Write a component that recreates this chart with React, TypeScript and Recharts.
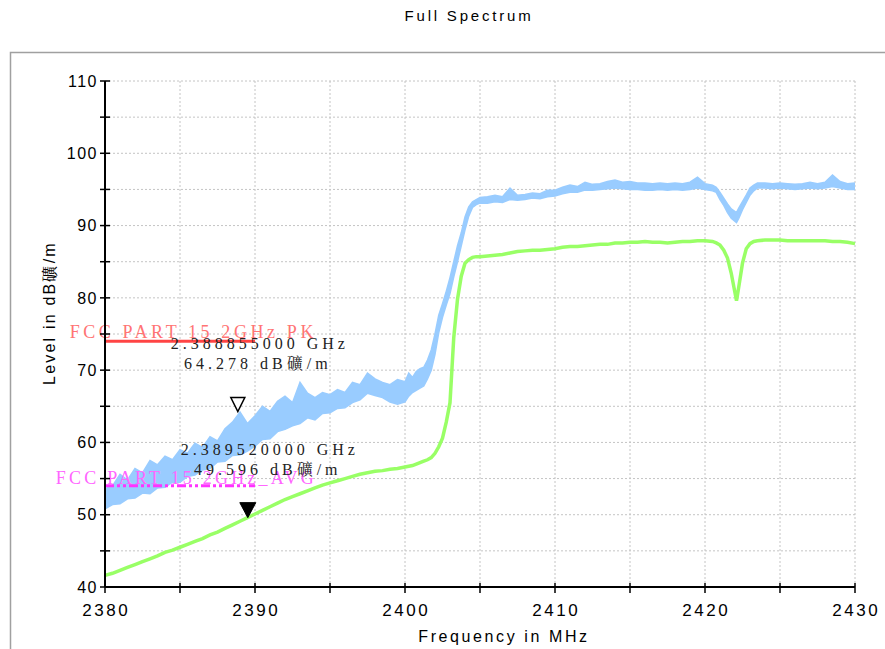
import React from 'react';
import {
  ComposedChart,
  Area,
  Line,
  XAxis,
  YAxis,
  CartesianGrid,
  ReferenceLine,
  ReferenceDot,
  Label,
} from 'recharts';

// ---------- data ----------
const freqMHz = [
  2380, 2380.5, 2381, 2381.5, 2382, 2382.5, 2383, 2383.5, 2384, 2384.5,
  2385, 2385.5, 2386, 2386.5, 2387, 2387.5, 2388, 2388.5, 2389, 2389.5,
  2390, 2390.5, 2391, 2391.5, 2392, 2392.5, 2393, 2393.5, 2394, 2394.5,
  2395, 2395.5, 2396, 2396.5, 2397, 2397.5, 2398, 2398.5, 2399, 2399.5, 2400,
  2400.25, 2400.5, 2400.75, 2401, 2401.25, 2401.5, 2401.75, 2402, 2402.25, 2402.5,
  2402.75, 2403, 2403.25, 2403.5, 2403.75, 2404, 2404.25, 2404.5, 2404.75, 2405,
  2405.5, 2406, 2406.5, 2407, 2407.5, 2408, 2408.5, 2409, 2409.5, 2410,
  2410.5, 2411, 2411.5, 2412, 2412.5, 2413, 2413.5, 2414, 2414.5, 2415,
  2415.5, 2416, 2416.5, 2417, 2417.5, 2418, 2418.5, 2419, 2419.5, 2420,
  2420.5,
  2420.75, 2421, 2421.25, 2421.5, 2421.75, 2422.1, 2422.25, 2422.5, 2422.75, 2423, 2423.25, 2423.5,
  2424, 2424.5, 2425, 2425.5, 2426, 2426.5, 2427, 2427.5, 2428, 2428.5, 2429, 2429.5, 2430,
];

const peakHigh = [
  53.6, 54.0, 55.6, 54.8, 56.4, 55.8, 57.5, 56.9, 58.1, 57.6,
  59.0, 58.5, 59.9, 59.3, 60.8, 60.2, 61.9, 62.8, 64.2, 62.6,
  63.7, 65.0, 64.3, 65.7, 66.4, 65.5, 68.3, 66.8, 66.2, 66.9,
  66.6, 67.3, 66.9, 68.3, 68.0, 69.6, 68.8, 68.3, 68.0, 68.7, 68.4,
  69.6, 69.0, 69.8, 70.2, 70.4, 71.4, 72.8, 75.0, 77.6, 79.2,
  80.9, 82.8, 85.0, 87.2, 89.0, 91.2, 92.6, 93.3, 93.6, 93.9,
  94.0, 94.2, 94.0, 95.2, 94.2, 94.3, 94.5, 94.4, 94.9, 94.9,
  95.3, 95.6, 95.4, 96.0, 95.7, 95.8, 96.1, 96.3, 96.0, 96.1,
  95.9, 95.9, 95.8, 95.9, 95.8, 95.9, 95.8, 96.0, 96.7, 95.8,
  95.6,
  95.3, 94.6, 93.8, 93.0, 92.3, 91.8, 92.4, 93.3, 94.2, 95.2, 95.6, 95.9,
  95.9, 95.8, 95.9, 95.8, 95.7, 95.8, 96.0, 95.8, 96.0, 97.0, 96.1, 95.8, 95.9,
];

const peakLow = [
  50.8, 51.4, 51.5, 52.2, 52.3, 53.0, 52.9, 53.7, 53.8, 54.5,
  54.5, 55.3, 55.5, 56.2, 56.4, 57.3, 57.4, 58.2, 58.3, 58.8,
  59.5, 60.4, 60.5, 61.5, 61.8, 62.3, 62.6, 63.4, 63.1, 64.0,
  64.1, 64.7, 64.8, 65.5, 65.9, 66.8, 66.5, 66.2, 65.6, 65.3, 65.6,
  66.4, 66.9, 67.2, 67.5, 67.8, 68.8, 70.0, 72.2, 75.2, 77.3,
  79.0, 80.6, 82.9, 85.0, 87.2, 89.4, 91.3, 92.5, 92.9, 93.1,
  93.1, 93.3, 93.2, 93.6, 93.5, 93.6, 93.8, 93.7, 94.0, 94.1,
  94.4, 94.6, 94.6, 94.9, 94.9, 95.0, 95.1, 95.2, 95.1, 95.0,
  95.0, 94.9, 94.9, 95.0, 94.9, 95.0, 94.9, 95.0, 95.2, 95.0,
  94.8,
  94.6, 93.6, 92.8, 91.8, 91.0, 90.4, 91.0, 92.2, 93.2, 94.2, 94.8, 95.2,
  95.2, 95.1, 95.2, 95.1, 95.0, 95.1, 95.2, 95.1, 95.2, 95.4, 95.2, 95.0, 95.0,
];

const average = [
  41.6, 41.9, 42.3, 42.7, 43.1, 43.5, 43.9, 44.3, 44.8, 45.1,
  45.5, 45.9, 46.3, 46.7, 47.2, 47.6, 48.1, 48.6, 49.1, 49.6,
  50.1, 50.6, 51.1, 51.6, 52.1, 52.5, 52.9, 53.3, 53.7, 54.1,
  54.4, 54.7, 55.0, 55.3, 55.6, 55.8, 56.0, 56.1, 56.3, 56.4, 56.6,
  56.7, 56.8, 57.0, 57.2, 57.4, 57.6, 57.9, 58.5, 59.4, 60.6,
  62.8, 65.5, 74.5, 79.8, 83.0, 84.8, 85.3, 85.6, 85.7, 85.7,
  85.8, 85.9, 86.0, 86.2, 86.4, 86.5, 86.6, 86.6, 86.7, 86.8,
  87.0, 87.1, 87.1, 87.2, 87.3, 87.4, 87.4, 87.6, 87.6, 87.7,
  87.7, 87.8, 87.7, 87.7, 87.6, 87.7, 87.8, 87.8, 87.9, 87.9,
  87.8,
  87.6, 87.3, 86.6, 85.5, 83.4, 79.6, 81.5, 84.8, 86.8, 87.5, 87.8, 87.9,
  88.0, 88.0, 88.0, 87.9, 87.9, 87.9, 87.9, 87.9, 87.9, 87.8, 87.8, 87.7, 87.5,
];

const xTicks = [2380, 2385, 2390, 2395, 2400, 2405, 2410, 2415, 2420, 2425, 2430];
const yTicks = [40, 45, 50, 55, 60, 65, 70, 75, 80, 85, 90, 95, 100, 105, 110];

const pkLimitLabel = 'FCC PART 15 2GHz  PK';
const avgLimitLabel = 'FCC PART 15 2GHz_AVG';
const pkLimit = 74;
const avgLimit = 54;
const limitFrom = 2380;
const limitTo = 2390;

const marker1Freq = 2388.855;
const marker1Level = 64.278;
const marker1Lines = ['2.388855000 GHz', '64.278 dB礦/m'];
const marker2Freq = 2389.52;
const marker2Level = 49.596;
const marker2Lines = ['2.389520000 GHz', '49.596 dB礦/m'];

const titleText = 'Full Spectrum';
const xTitle = 'Frequency in MHz';
const yTitle = 'Level in dB礦/m';

const chartData = freqMHz.map((f, i) => ({
  f,
  band: [peakLow[i], peakHigh[i]],
  avg: average[i],
}));

// ---------- styles ----------
const W = 885;
const H = 649;
const SANS = "'Liberation Sans', Arial, sans-serif";
const SERIF = "'Liberation Serif', 'Noto Serif CJK SC', 'Noto Sans CJK SC', serif";
const BLUE = '#99ccff';
const GREEN = '#99ff66';

const YTick = (props: any) => {
  const { x, y, payload } = props;
  const v = payload.value;
  return (
    <g>
      <line x1={x - 5} x2={x + 5} y1={y} y2={y} stroke="#000" strokeWidth={1.5} />
      {v % 10 === 0 && (
        <text
          x={x - 7}
          y={y}
          dy="0.36em"
          textAnchor="end"
          fontFamily={SANS}
          fontSize={16}
          letterSpacing={1.5}
          fill="#000"
        >
          {v}
        </text>
      )}
    </g>
  );
};

const XTick = (props: any) => {
  const { x, y, payload } = props;
  const v = payload.value;
  return (
    <g>
      <line x1={x} x2={x} y1={y - 4} y2={y + 6} stroke="#000" strokeWidth={1.5} />
      {v % 10 === 0 && (
        <text
          x={x + 1.2}
          y={y + 29}
          textAnchor="middle"
          fontFamily={SANS}
          fontSize={17}
          letterSpacing={2.5}
          fill="#000"
        >
          {v}
        </text>
      )}
    </g>
  );
};

const markerLabel = (lines: string[]) => (props: any) => {
  const vb = props.viewBox || {};
  const cx = vb.x + (vb.width || 0) / 2;
  const cy = vb.y + (vb.height || 0) / 2;
  return (
    <g>
      <text
        x={cx + 22}
        y={cy - 63}
        textAnchor="middle"
        fontFamily={SERIF}
        fontSize={16}
        letterSpacing={4}
        fill="#222"
      >
        {lines[0]}
      </text>
      <text
        x={cx + 20}
        y={cy - 43}
        textAnchor="middle"
        fontFamily={SERIF}
        fontSize={16}
        letterSpacing={4}
        fill="#222"
      >
        {lines[1]}
      </text>
    </g>
  );
};

const limitLabel = (text: string, color: string, dy: number, spacing: number) => (props: any) => {
  const vb = props.viewBox || {};
  return (
    <text
      x={vb.x + 212}
      y={vb.y + dy}
      textAnchor="end"
      fontFamily={SERIF}
      fontSize={18}
      letterSpacing={spacing}
      fill={color}
    >
      {text}
    </text>
  );
};

const OpenTriangle = (props: any) => {
  const { cx, cy } = props;
  return (
    <polygon
      points={`${cx - 7},${cy - 14} ${cx + 7},${cy - 14} ${cx},${cy}`}
      fill="#fff"
      stroke="#000"
      strokeWidth={1.5}
    />
  );
};

const FilledTriangle = (props: any) => {
  const { cx, cy } = props;
  return (
    <polygon
      points={`${cx - 8},${cy - 15} ${cx + 8},${cy - 15} ${cx},${cy}`}
      fill="#000"
      stroke="#000"
      strokeWidth={1}
    />
  );
};

export default function App() {
  return (
    <div
      style={{
        position: 'absolute',
        left: 0,
        top: 0,
        width: W,
        height: H,
        overflow: 'hidden',
        background: '#fff',
      }}
    >
      <svg
        width={W}
        height={H}
        style={{ position: 'absolute', left: 0, top: 0 }}
      >
        <rect x={10.5} y={52.5} width={900} height={700} fill="#fff" stroke="#a0a0a0" strokeWidth={1.5} />
        <text
          x={469}
          y={21}
          textAnchor="middle"
          fontFamily={SANS}
          fontSize={15}
          letterSpacing={2.8}
          fill="#000"
        >
          {titleText}
        </text>
      </svg>
      <div style={{ position: 'absolute', left: 0, top: 0 }}>
        <ComposedChart
          width={W}
          height={H}
          data={chartData}
          margin={{ top: 81, right: 30, bottom: 22, left: 45 }}
        >
          <CartesianGrid stroke="#c4c4c4" strokeDasharray="2 2" strokeWidth={1} />
          <XAxis
            dataKey="f"
            type="number"
            domain={[2380, 2430]}
            ticks={xTicks}
            interval={0}
            height={40}
            tickSize={0}
            tickMargin={0}
            tickLine={false}
            axisLine={{ stroke: '#000', strokeWidth: 2 }}
            tick={<XTick />}
          >
            <Label
              content={(p: any) => {
                const vb = p.viewBox || {};
                return (
                  <text
                    x={vb.x + vb.width / 2 + 24}
                    y={642}
                    textAnchor="middle"
                    fontFamily={SANS}
                    fontSize={16}
                    letterSpacing={2.6}
                    fill="#000"
                  >
                    {xTitle}
                  </text>
                );
              }}
            />
          </XAxis>
          <YAxis
            type="number"
            domain={[40, 110]}
            ticks={yTicks}
            interval={0}
            width={60}
            tickSize={0}
            tickMargin={0}
            tickLine={false}
            axisLine={{ stroke: '#000', strokeWidth: 2 }}
            tick={<YTick />}
          >
            <Label
              content={(p: any) => {
                const vb = p.viewBox || {};
                const cx = vb.x + 10;
                const cy = vb.y + vb.height / 2 - 21;
                return (
                  <text
                    x={cx}
                    y={cy}
                    transform={`rotate(-90 ${cx} ${cy})`}
                    textAnchor="middle"
                    fontFamily={SANS}
                    fontSize={16}
                    letterSpacing={2.2}
                    fill="#000"
                  >
                    {yTitle}
                  </text>
                );
              }}
            />
          </YAxis>
          <Area
            type="linear"
            dataKey="band"
            stroke={BLUE}
            strokeWidth={1.5}
            fill={BLUE}
            fillOpacity={1}
            dot={false}
            activeDot={false}
            isAnimationActive={false}
          />
          <Line
            type="linear"
            dataKey="avg"
            stroke={GREEN}
            strokeWidth={3.5}
            dot={false}
            activeDot={false}
            isAnimationActive={false}
          />
          <ReferenceLine
            segment={[
              { x: limitFrom, y: pkLimit },
              { x: limitTo, y: pkLimit },
            ]}
            stroke="#ff4444"
            strokeWidth={3}
            ifOverflow="visible"
            label={{ content: limitLabel(pkLimitLabel, '#ff7474', -3, 3.6) }}
          />
          <ReferenceLine
            segment={[
              { x: limitFrom, y: avgLimit },
              { x: limitTo, y: avgLimit },
            ]}
            stroke="#ff33ff"
            strokeWidth={3}
            strokeDasharray="9 3 3 3 3 3"
            ifOverflow="visible"
            label={{ content: limitLabel(avgLimitLabel, '#ff66ff', -2, 3.2) }}
          />
          <ReferenceDot
            x={marker1Freq}
            y={marker1Level}
            r={0}
            shape={<OpenTriangle />}
            label={{ content: markerLabel(marker1Lines) }}
          />
          <ReferenceDot
            x={marker2Freq}
            y={marker2Level}
            r={0}
            shape={<FilledTriangle />}
            label={{ content: markerLabel(marker2Lines) }}
          />
        </ComposedChart>
      </div>
    </div>
  );
}
